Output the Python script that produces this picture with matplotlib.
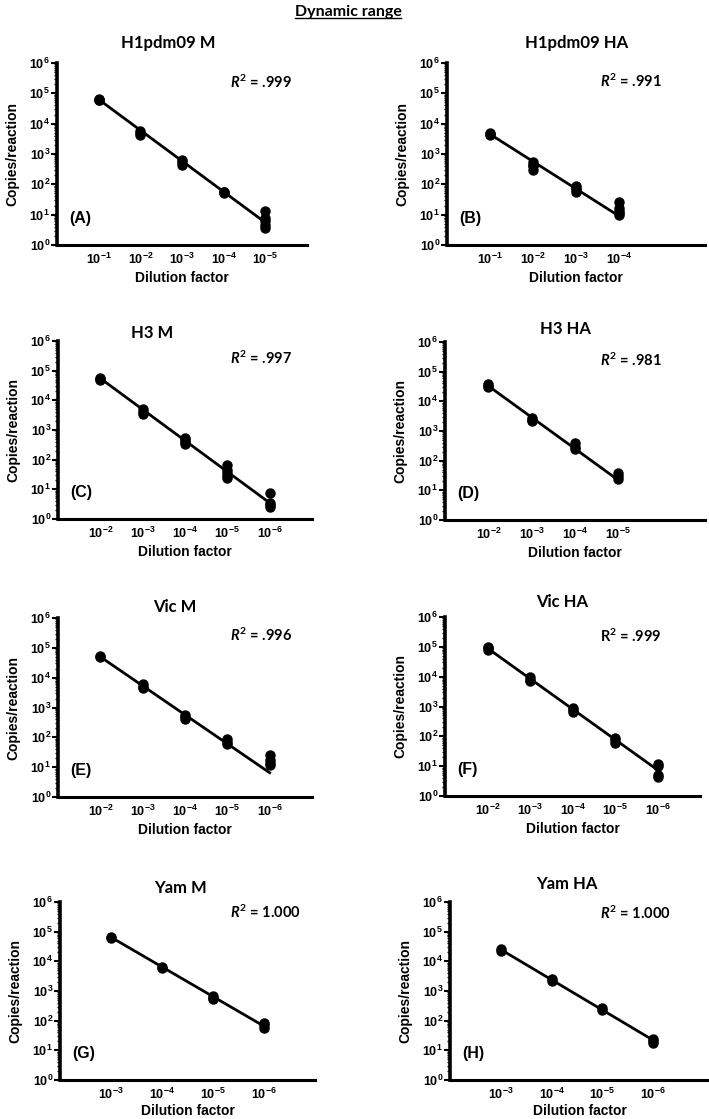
import matplotlib
matplotlib.use("Agg")
import matplotlib.pyplot as plt
from matplotlib.lines import Line2D
from matplotlib.ticker import FixedLocator, LogLocator, NullFormatter

plt.rcParams['font.family'] = ['Liberation Sans', 'DejaVu Sans']
plt.rcParams['font.weight'] = 'bold'
plt.rcParams['mathtext.fontset'] = 'custom'
plt.rcParams['mathtext.default'] = 'regular'
plt.rcParams['mathtext.it'] = 'Lato:italic:bold'

# ---- data ----
panel_titles = ['H1pdm09 M', 'H1pdm09 HA', 'H3 M', 'H3 HA',
                'Vic M', 'Vic HA', 'Yam M', 'Yam HA']
panel_tags = ['(A)', '(B)', '(C)', '(D)', '(E)', '(F)', '(G)', '(H)']
r2_values = ['.999', '.991', '.997', '.981', '.996', '.999', '1.000', '1.000']
r2_italic = [True, True, True, True, True, False, True, True]

# dilution exponents (10^-k) for each panel
dilution_exps = [
    [1, 2, 3, 4, 5],
    [1, 2, 3, 4],
    [2, 3, 4, 5, 6],
    [2, 3, 4, 5],
    [2, 3, 4, 5, 6],
    [2, 3, 4, 5, 6],
    [3, 4, 5, 6],
    [3, 4, 5, 6],
]

# replicate copies/reaction per dilution
copies_h1_m = [[6.5e4, 6.2e4, 6.0e4], [5.8e3, 5.0e3, 4.3e3], [620, 530, 450],
               [58, 55, 52], [13, 7.5, 6, 4.5, 3.6]]
copies_h1_ha = [[5.0e3, 4.5e3, 4.2e3], [550, 450, 400, 300], [90, 75, 65, 55],
                [27, 16, 13, 11, 10]]
copies_h3_m = [[5.8e4, 5.2e4, 4.8e4], [5.0e3, 4.2e3, 3.5e3], [550, 450, 380, 330],
               [65, 45, 35, 28, 25], [7.8, 3.5, 3.0, 2.5]]
copies_h3_ha = [[3.8e4, 3.3e4, 3.0e4], [2.8e3, 2.4e3, 2.2e3], [380, 300, 240],
                [38, 30, 25]]
copies_vic_m = [[5.2e4, 4.8e4], [6.0e3, 5.0e3, 4.5e3], [560, 480, 400],
                [85, 70, 60], [25, 18, 14, 12]]
copies_vic_ha = [[1.0e5, 9.0e4, 8.0e4], [9.5e3, 8.0e3, 7.0e3], [900, 750, 650],
                 [85, 75, 62], [12, 10, 5, 4.3]]
copies_yam_m = [[6.5e4, 6.0e4], [6.2e3, 5.8e3], [680, 600, 520], [85, 70, 58]]
copies_yam_ha = [[2.6e4, 2.3e4], [2.5e3, 2.2e3], [260, 230], [25, 20, 17]]
copies = [copies_h1_m, copies_h1_ha, copies_h3_m, copies_h3_ha,
          copies_vic_m, copies_vic_ha, copies_yam_m, copies_yam_ha]

# regression line values at first and last dilution
fit_start = [6.3e4, 4.5e3, 5.5e4, 3.3e4, 5.0e4, 9.0e4, 6.5e4, 2.5e4]
fit_end = [5.5, 9, 3.5, 22, 6.5, 7.5, 65, 22]

# ---- layout (pixels) ----
W, H = 709, 1119
axes_px = [  # left, top, right, bottom
    (57, 63, 307, 245), (447, 63, 705, 245),
    (58, 341, 312, 519), (445, 342, 705, 520),
    (58, 618, 312, 797), (445, 617, 700, 796),
    (60, 902, 315, 1080), (450, 902, 709, 1080),
]
x_limits = [(0, 6), (0, 6), (1, 7), (1, 7), (1, 7), (1, 7), (2, 7), (2, 7.1)]
title_px = [(168, 43), (577, 43), (152, 333), (565, 329),
            (175, 607), (562, 602), (181, 888), (567, 884)]
r2_px = [(230, 82), (600, 81), (230, 358), (600, 360),
         (230, 635), (600, 636), (230, 912), (600, 913)]
xlabel_off = [26, 26, 26, 26, 26, 26, 24, 24]


def fx(px):
    return px / W


def fy(py):
    return 1 - py / H


fig = plt.figure(figsize=(W / 100, H / 100), dpi=100)

for i in range(8):
    l, t, r, b = axes_px[i]
    ax = fig.add_axes([fx(l), fy(b), (r - l) / W, (b - t) / H])
    exps = dilution_exps[i]
    for k, reps in zip(exps, copies[i]):
        ax.plot([k] * len(reps), reps, 'o', color='black', ms=6.5, zorder=3)
    ax.plot([exps[0], exps[-1]], [fit_start[i], fit_end[i]], color='black',
            lw=2.0, zorder=2)

    ax.set_yscale('log')
    ax.set_ylim(1, 1e6)
    ax.set_xlim(*x_limits[i])
    ax.yaxis.set_major_locator(FixedLocator([10.0 ** p for p in range(7)]))
    ax.set_yticklabels([f'$10^{{{p}}}$' for p in range(7)], fontsize=9,
                       fontweight='bold')
    ax.yaxis.set_minor_locator(LogLocator(base=10, subs=range(2, 10), numticks=20))
    ax.yaxis.set_minor_formatter(NullFormatter())
    ax.tick_params(axis='y', which='major', length=4, width=1.5, pad=1)
    ax.tick_params(axis='y', which='minor', length=2.5, width=1)
    ax.set_xticks(exps)
    ax.set_xticklabels([f'$10^{{-{k}}}$' for k in exps], fontsize=9,
                       fontweight='bold')
    ax.tick_params(axis='x', length=0, pad=5)

    for side in ['top', 'right']:
        ax.spines[side].set_visible(False)
    ax.spines['left'].set_linewidth(2.6)
    ax.spines['bottom'].set_linewidth(2.2)

    ax.set_ylabel('Copies/reaction', fontsize=10, fontweight='bold')
    ax.yaxis.set_label_coords(-38 / (r - l), 0.5)
    ax.set_xlabel('Dilution factor', fontsize=10, fontweight='bold')
    ax.xaxis.set_label_coords(0.5, -xlabel_off[i] / (b - t))

    ax.text(0.048, 0.148, panel_tags[i], transform=ax.transAxes, fontsize=11.5,
            fontweight='bold', va='center', ha='left')

    tx, ty = title_px[i]
    fig.text(fx(tx), fy(ty), panel_titles[i], family=['Lato', 'DejaVu Sans'],
             fontsize=12, fontweight='bold', ha='center', va='center')
    rx, ry = r2_px[i]
    label = (r'$\mathit{R}^{2}$' if r2_italic[i] else r'$R^{2}$') + ' = ' + r2_values[i]
    fig.text(fx(rx), fy(ry), label, family=['Lato', 'DejaVu Sans'],
             fontsize=10.5, fontweight='bold', ha='left', va='center')

title = fig.text(fx(348), fy(12), 'Dynamic range', family=['Lato', 'DejaVu Sans'],
                 fontsize=11.5, fontweight='bold', ha='center', va='center')
fig.canvas.draw()
bb = title.get_window_extent().transformed(fig.transFigure.inverted())
fig.add_artist(Line2D([bb.x0, bb.x1], [bb.y0 + 0.001, bb.y0 + 0.001],
                      color='black', lw=1.0, transform=fig.transFigure))

fig.savefig('out.png', dpi=100)
